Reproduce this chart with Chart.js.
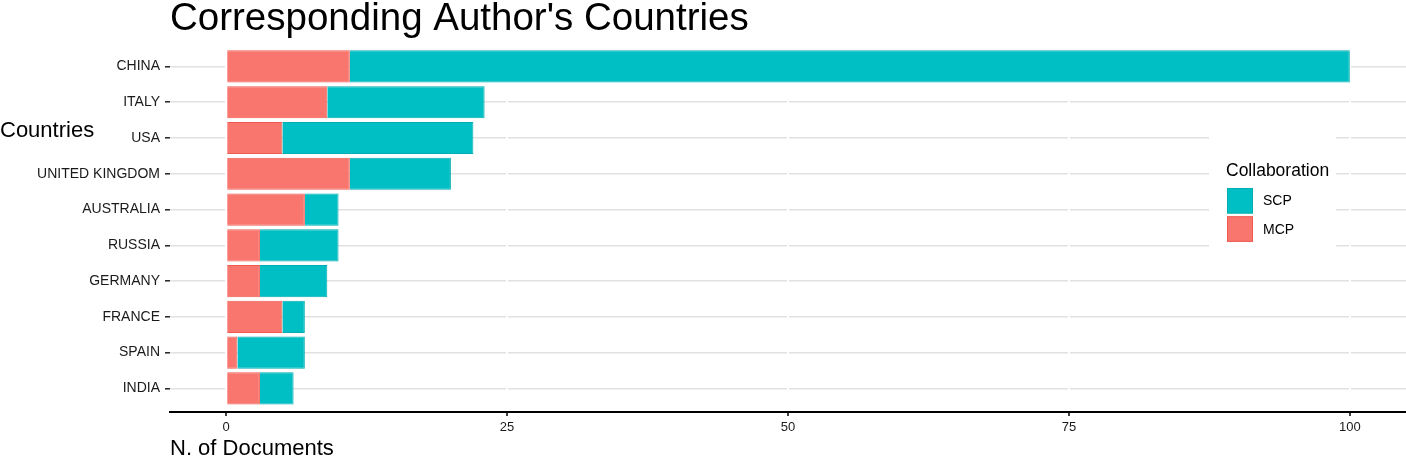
<!DOCTYPE html>
<html><head><meta charset="utf-8">
<script src="https://cdn.jsdelivr.net/npm/chart.js@4.4.1/dist/chart.umd.min.js"></script>
<style>html,body{margin:0;padding:0;background:#fff;overflow:hidden}#wrap{width:1406px;height:457px}</style>
</head><body><div id="wrap"><canvas id="c" width="1406" height="457"></canvas></div>
<script>
const chartTitle = "Corresponding Author's Countries";
const yTitle = "Countries";
const xTitle = "N. of Documents";
const legendTitle = "Collaboration";
const countries = ["CHINA","ITALY","USA","UNITED KINGDOM","AUSTRALIA","RUSSIA","GERMANY","FRANCE","SPAIN","INDIA"];
const mcp = [11, 9, 5, 11, 7, 3, 3, 5, 1, 3];
const scp = [89, 14, 17, 9, 3, 7, 6, 2, 6, 3];
const xTicks = [0, 25, 50, 75, 100];

const FONT = "'Liberation Sans', Arial, Helvetica, sans-serif";
const COL_SCP = '#00BFC4', COL_MCP = '#F8766D';
const BOR_SCP = '#00ADB2', BOR_MCP = '#EE5A50';

const overlay = {
  id: 'overlay',
  afterDraw(chart) {
    const ctx = chart.ctx;
    ctx.save();
    // chart title
    ctx.fillStyle = '#000';
    ctx.font = "38.5px " + FONT;
    ctx.textAlign = 'left';
    ctx.textBaseline = 'alphabetic';
    ctx.fillText(chartTitle, chart.chartArea.left, 30);
    // y axis title (horizontal)
    ctx.font = "22px " + FONT;
    ctx.textBaseline = 'middle';
    ctx.fillText(yTitle, 0, 131);
    // legend
    ctx.fillStyle = '#fff';
    ctx.fillRect(1209, 128, 127, 134);
    ctx.fillStyle = '#000';
    ctx.font = "17.5px " + FONT;
    ctx.fillText(legendTitle, 1226, 171);
    const items = [
      {name: chart.data.datasets[1].label, fill: COL_SCP, border: BOR_SCP},
      {name: chart.data.datasets[0].label, fill: COL_MCP, border: BOR_MCP}
    ];
    items.forEach((it, i) => {
      const y = 188 + i * 28.3;
      ctx.fillStyle = it.fill;
      ctx.fillRect(1227, y, 26, 25.5);
      ctx.strokeStyle = it.border;
      ctx.lineWidth = 1;
      ctx.strokeRect(1227.5, y + 0.5, 25, 24.5);
      ctx.fillStyle = '#000';
      ctx.font = "14px " + FONT;
      ctx.fillText(it.name, 1263, y + 13.5);
    });
    ctx.restore();
  }
};

new Chart(document.getElementById('c'), {
  type: 'bar',
  data: {
    datasets: [
      {label: 'MCP', data: mcp.map((v, i) => ({x: v, y: i})), backgroundColor: COL_MCP, borderColor: BOR_MCP, borderWidth: 1},
      {label: 'SCP', data: scp.map((v, i) => ({x: v, y: i})), backgroundColor: COL_SCP, borderColor: BOR_SCP, borderWidth: 1}
    ]
  },
  options: {
    indexAxis: 'y',
    responsive: false,
    animation: false,
    devicePixelRatio: 1,
    categoryPercentage: 1,
    barPercentage: 0.9,
    layout: {padding: {top: 45, left: 0, right: 0, bottom: 0}},
    plugins: {legend: {display: false}, title: {display: false}, tooltip: {enabled: false}},
    scales: {
      y: {
        type: 'linear',
        reverse: true,
        stacked: true,
        offset: false,
        min: -0.6,
        max: 9.66,
        afterBuildTicks: (s) => { s.ticks = countries.map((_, i) => ({value: i})); },
        afterFit: (s) => { s.width = 170; },
        ticks: {
          autoSkip: false,
          callback: (v) => countries[v],
          font: {family: FONT, size: 14},
          color: '#1a1a1a',
          padding: 5
        },
        grid: {offset: false, color: '#e2e2e2', lineWidth: 1.6, drawTicks: true, tickLength: 5, tickColor: '#222', tickWidth: 1.5},
        border: {display: false}
      },
      x: {
        type: 'linear',
        stacked: true,
        min: -5,
        max: 105,
        afterBuildTicks: (s) => { s.ticks = xTicks.map(v => ({value: v})); },
        afterFit: (s) => { s.height = 45; },
        ticks: {font: {family: FONT, size: 13}, color: '#1a1a1a', padding: 4, maxRotation: 0},
        grid: {color: '#ffffff', lineWidth: 2, drawOnChartArea: true, drawTicks: true, tickLength: 4, tickColor: '#000', tickWidth: 1.5},
        border: {display: true, color: '#000', width: 2},
        title: {display: true, text: xTitle, align: 'start', color: '#000', font: {family: FONT, size: 22, lineHeight: 0.75}, padding: {top: 0, bottom: 0}}
      }
    }
  },
  plugins: [overlay]
});
</script>
</body></html>
